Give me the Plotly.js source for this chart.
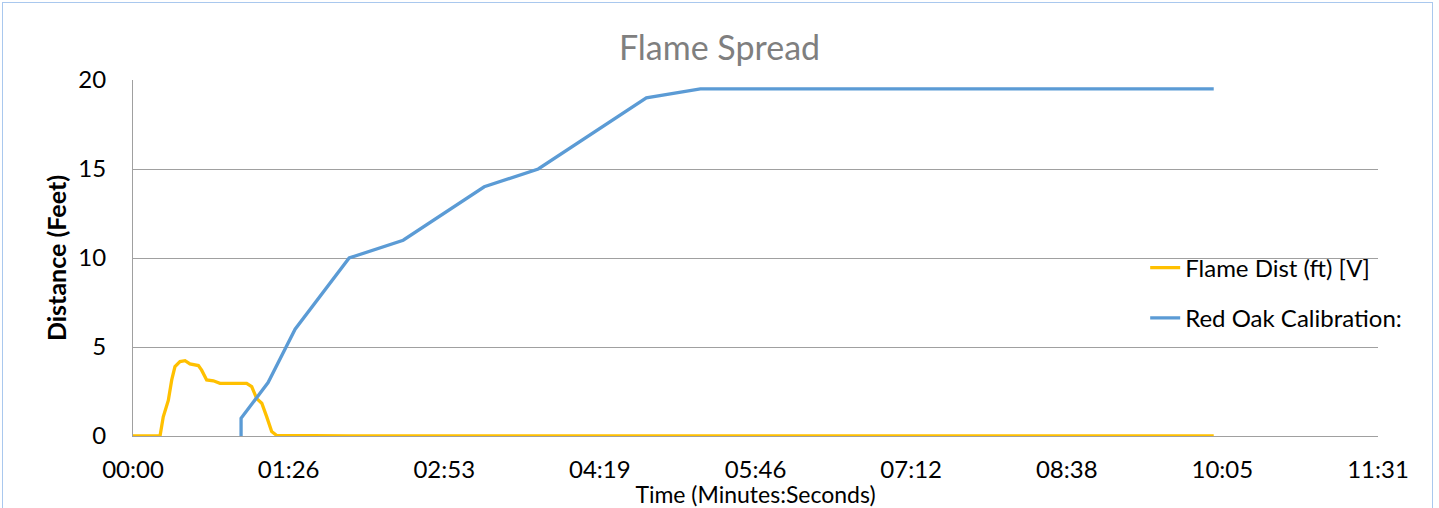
<!DOCTYPE html>
<html>
<head>
<meta charset="utf-8">
<script src="https://cdn.plot.ly/plotly-3.0.1.min.js"></script>
<style>
html,body{margin:0;padding:0;background:#fff;}
#chart{width:1439px;height:508px;position:absolute;left:0;top:0;}
#frame{position:absolute;left:2px;top:2px;width:1429px;height:520px;border:1px solid #a9c8ee;pointer-events:none;}
</style>
</head>
<body>
<div id="chart"></div>
<div id="frame"></div>
<script>
// Time in seconds
var flameTime = [0, 15, 16.8, 19.6, 21.5, 23.3, 26.1, 28.9, 31.6, 36.3, 38.1, 40.9, 44.6, 48.3, 63.1, 65.9, 68.7, 71.5, 74.2, 77, 79.8, 120, 200, 300, 400, 500, 600];
var flameDist = [0, 0, 1.08, 2.0, 3.15, 3.9, 4.18, 4.23, 4.05, 3.96, 3.7, 3.15, 3.1, 2.96, 2.96, 2.77, 2.1, 1.84, 1.09, 0.25, 0.03, 0, 0, 0, 0, 0, 0];

var oakTime = [60, 60, 75, 90, 120, 150, 195, 225, 285, 315, 600];
var oakDist = [0, 1, 3, 6, 10, 11, 14, 15, 19, 19.5, 19.5];

var xTickVals = [0, 86.4, 172.8, 259.2, 345.6, 432, 518.4, 604.8, 691.2];
var xTickLabels = ['00:00', '01:26', '02:53', '04:19', '05:46', '07:12', '08:38', '10:05', '11:31'];
var yTickVals = [0, 5, 10, 15, 20];

var seriesNames = ['Flame Dist (ft) [V]', 'Red Oak Calibration:'];

var fontFam = 'Lato, "Open Sans", sans-serif';

var traces = [
  {x: flameTime, y: flameDist, type: 'scatter', mode: 'lines', name: seriesNames[0], legendgroup: 'a',
   line: {color: '#FFC000', width: 3.3}},
  {x: oakTime, y: oakDist, type: 'scatter', mode: 'lines', name: seriesNames[1], legendgroup: 'b',
   line: {color: '#5B9BD5', width: 3.3}}
];

var layout = {
  width: 1439, height: 508,
  margin: {l: 133, r: 61, t: 80, b: 72},
  paper_bgcolor: '#fff', plot_bgcolor: '#fff',
  font: {family: fontFam, size: 24, color: '#000'},
  title: {text: 'Flame Spread', font: {family: fontFam, size: 34, color: '#7f7f7f'}, x: 0.5, xanchor: 'center', y: 0.906, yanchor: 'middle'},
  showlegend: true,
  legend: {x: 0.813, xanchor: 'left', y: 0.535, yanchor: 'top', traceorder: 'grouped', tracegroupgap: 16,
           bgcolor: 'rgba(0,0,0,0)', font: {family: fontFam, size: 24, color: '#000'}},
  xaxis: {
    range: [0, 691.2], tickmode: 'array', tickvals: xTickVals, ticktext: xTickLabels,
    showgrid: false, zeroline: false, showline: true, linecolor: '#a0a0a0', linewidth: 1,
    ticks: '', ticklabelstandoff: 12, tickfont: {family: fontFam, size: 24, color: '#000'},
    title: {text: 'Time (Minutes:Seconds)', font: {family: fontFam, size: 23, color: '#000'}, standoff: 4},
    automargin: false, fixedrange: true
  },
  yaxis: {
    range: [0, 20], tickmode: 'array', tickvals: yTickVals,
    showgrid: true, gridcolor: '#a0a0a0', gridwidth: 1, zeroline: false,
    showline: true, linecolor: '#a0a0a0', linewidth: 1,
    ticks: '', ticklabelstandoff: 21, tickfont: {family: fontFam, size: 24, color: '#000'},
    title: {text: '<b>Distance (Feet)</b>', font: {family: fontFam, size: 25, color: '#000'}, standoff: 4},
    automargin: false, fixedrange: true
  }
};

Plotly.newPlot('chart', traces, layout, {displayModeBar: false, staticPlot: true});
</script>
</body>
</html>
